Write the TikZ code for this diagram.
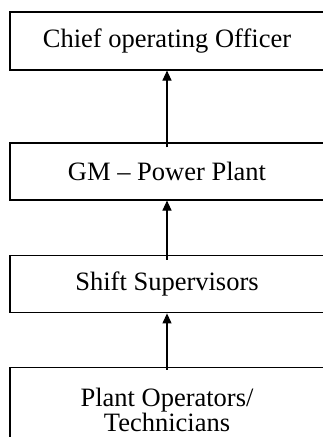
\documentclass[tikz,border=0pt]{standalone}
\usepackage{fontspec}
\setmainfont{Liberation Serif}
\usetikzlibrary{arrows.meta}
\begin{document}
\begin{tikzpicture}[x=1pt,y=-1pt,
    orgbox/.style={draw,line width=1.1pt,minimum width=314pt,align=center,inner sep=0pt,
      font=\fontsize{26.5}{23.3}\selectfont},
    uparrow/.style={line width=1.1pt,-{Triangle[width=9pt,length=10pt]}}]
      \useasboundingbox (0,0) rectangle (323,437);
      \node[orgbox,minimum height=58pt] (coo) at (167,41) {Chief operating Officer};
      \node[orgbox,minimum height=57pt] (gm) at (167,171.5) {GM -- Power Plant};
      \node[orgbox,minimum height=57.7pt] (shift) at (167,284) {Shift Supervisors};
      \node[orgbox,anchor=north,inner ysep=21pt] (plant) at (167,366.5) {Plant Operators/\\Technicians};
      \draw[uparrow] ([yshift=-5pt]gm.north) -- (coo.south);
      \draw[uparrow] ([yshift=-5pt]shift.north) -- (gm.south);
      \draw[uparrow] ([yshift=-3pt]plant.north) -- (shift.south);
    \end{tikzpicture}
\end{document}
